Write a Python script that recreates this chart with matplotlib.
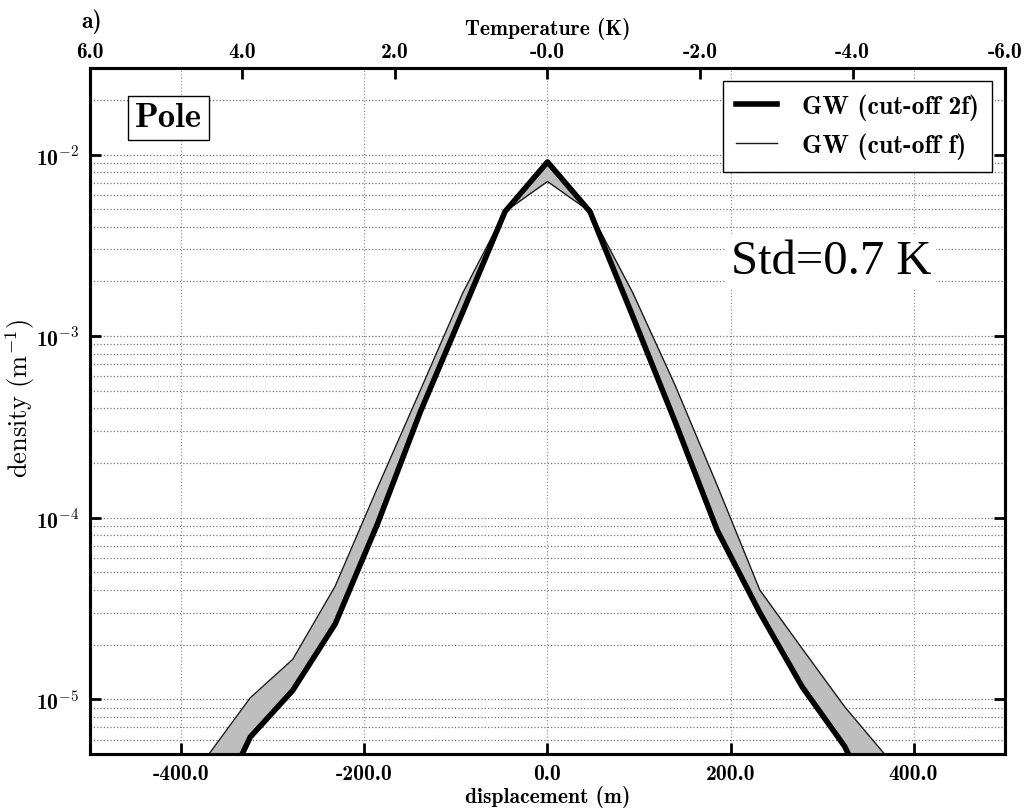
"""
Density of vertical displacement at the pole for two gravity-wave cut-offs.
"""
import matplotlib
matplotlib.use("Agg")
import matplotlib.pyplot as plt
from matplotlib.ticker import LogLocator, NullFormatter, FormatStrFormatter, FuncFormatter
import numpy as np

# displacement bins (m) and densities (1/m)
disp = [-371.2, -324.8, -278.4, -232.0, -185.6, -139.2, -92.8, -46.4, 0.0,
        46.4, 92.8, 139.2, 185.6, 232.0, 278.4, 324.8, 371.2]
dens_2f = [2.0e-6, 6.2e-6, 1.12e-5, 2.6e-5, 9.3e-5, 3.8e-4, 1.35e-3, 4.85e-3, 9.1e-3,
           4.85e-3, 1.3e-3, 3.4e-4, 8.5e-5, 3.0e-5, 1.17e-5, 5.5e-6, 1.8e-6]
dens_f = [4.9e-6, 1.02e-5, 1.66e-5, 4.2e-5, 1.47e-4, 5.0e-4, 1.72e-3, 4.85e-3, 7.1e-3,
          4.85e-3, 1.75e-3, 5.4e-4, 1.5e-4, 4.0e-5, 1.9e-5, 9.1e-6, 4.8e-6]

disp_ticks = [-400, -200, 0, 200, 400]
temp_ticks = [6.0, 4.0, 2.0, -0.0, -2.0, -4.0, -6.0]
K_PER_M = 6.0 / 500.0

plt.rcParams.update({
    "font.family": "cmb10",
    "mathtext.fontset": "cm",
    "axes.unicode_minus": False,
    "axes.linewidth": 2.2,
})


def log_label(v, pos):
    # bold "10" as text, exponent set with the cm math fonts
    return r"10$^{%d}$" % int(round(np.log10(v)))


fig = plt.figure(figsize=(10.27, 8.12), dpi=100)
ax = fig.add_axes([0.0876, 0.0702, 0.891, 0.845])

ax.fill_between(disp, dens_f, dens_2f, color="#bebebe", lw=0, zorder=2)
ax.plot(disp, dens_2f, "-", color="k", lw=4, label="GW (cut-off 2f)", zorder=4)
ax.plot(disp, dens_f, "-", color="0.1", lw=1, label="GW (cut-off f)", zorder=3)

ax.set_yscale("log")
ax.set_ylim(5e-6, 3e-2)
ax.set_xlim(-500, 500)
ax.set_xticks(disp_ticks)
ax.xaxis.set_major_formatter(FormatStrFormatter("%.1f"))
ax.yaxis.set_major_formatter(FuncFormatter(log_label))
ax.yaxis.set_minor_locator(LogLocator(base=10, subs=range(2, 10)))
ax.yaxis.set_minor_formatter(NullFormatter())

ax.tick_params(which="major", direction="in", length=8, width=2,
               labelsize=15.5, top=False, right=True)
ax.tick_params(axis="x", pad=7)
ax.tick_params(axis="y", pad=8)
ax.tick_params(which="minor", length=0)

ax.grid(which="major", axis="x", ls=":", color="0.6", lw=0.9)
ax.grid(which="both", axis="y", ls=":", color="0.45", lw=0.9)
ax.set_axisbelow(True)

ax.set_xlabel("displacement (m)", fontsize=15.5, labelpad=2)
ax.set_ylabel(r"$\mathrm{density\ (m^{-1})}$", fontsize=19)
ax.yaxis.set_label_coords(-0.058, 0.52)

# temperature axis on top
ax2 = ax.twiny()
ax2.set_xlim(ax.get_xlim())
ax2.set_xticks([-t / K_PER_M for t in temp_ticks])
ax2.set_xticklabels(["%.1f" % t for t in temp_ticks])
ax2.tick_params(direction="in", length=8, width=2, labelsize=15.5, pad=5)
ax2.set_xlabel("Temperature (K)", fontsize=15.5, labelpad=6)
for sp in ax2.spines.values():
    sp.set_linewidth(2.2)

leg = ax.legend(loc="upper right", fontsize=18.5, fancybox=False, edgecolor="k",
                framealpha=1, handlelength=1.6, handletextpad=1.0,
                borderaxespad=0.5, borderpad=0.5)
leg.get_frame().set_linewidth(1.0)

ax.text(0.086, 0.927, "Pole", transform=ax.transAxes, fontsize=25,
        ha="center", va="center",
        bbox=dict(boxstyle="square,pad=0.2", fc="white", ec="k", lw=1.0))
ax.text(0.70, 0.701, "Std=0.7 K", transform=ax.transAxes, fontsize=35,
        family="Liberation Serif", fontweight="normal", va="baseline",
        bbox=dict(boxstyle="square,pad=0.1", fc="white", ec="none"), zorder=5)
fig.text(0.079, 0.958, "a)", fontsize=17, va="bottom")

fig.savefig("out.png", dpi=100)
